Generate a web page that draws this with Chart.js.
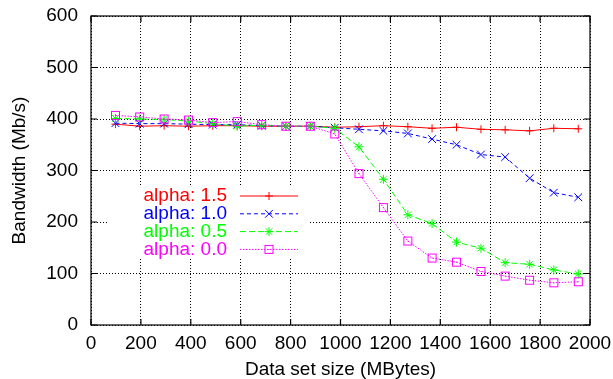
<!DOCTYPE html>
<html>
<head>
<meta charset="utf-8">
<script src="https://cdn.jsdelivr.net/npm/chart.js@4.4.1/dist/chart.umd.min.js"></script>
<style>
  html, body { margin: 0; padding: 0; background: #fff; }
  #wrap { width: 613px; height: 379px; }
</style>
</head>
<body>
<div id="wrap"><canvas id="bw" width="613" height="379"></canvas></div>
<script>
// Data set sizes (MBytes)
const sizes = [98, 195, 293, 391, 488, 586, 684, 781, 879, 977,
               1074, 1172, 1270, 1367, 1465, 1563, 1660, 1758, 1855, 1953];

// Bandwidth (Mb/s) per alpha
const alpha15 = [390, 386, 387, 386, 387, 387, 386, 386, 386, 384,
                 385, 387, 385, 382, 384, 380, 379, 377, 382, 381];
const alpha10 = [392, 391, 391, 390, 389, 389, 387, 386, 386, 383,
                 380, 377, 372, 361, 350, 331, 326, 285, 257, 248];
const alpha05 = [401, 400, 399, 396, 391, 386, 388, 386, 386, 382,
                 346, 283, 214, 197, 161, 149, 121, 118, 107, 99];
const alpha00 = [407, 404, 400, 398, 393, 395, 389, 386, 386, 371,
                 294, 228, 163, 130, 122, 104, 95, 87, 82, 84];

const xTicks = [0, 200, 400, 600, 800, 1000, 1200, 1400, 1600, 1800, 2000];
const yTicks = [0, 100, 200, 300, 400, 500, 600];

const FONT = "'Liberation Sans', Arial, sans-serif";
Chart.defaults.font.family = FONT;
Chart.defaults.font.size = 19;
Chart.defaults.color = '#000';

// gnuplot style box with a dot in the middle
function boxDot(color) {
    const c = document.createElement('canvas');
    c.width = 11; c.height = 11;
    const g = c.getContext('2d');
    g.strokeStyle = color;
    g.lineWidth = 1;
    g.strokeRect(1.5, 1.5, 8, 8);
    g.fillStyle = color;
    g.fillRect(5, 5, 1, 1);
    return c;
}

function pts(values) {
    return sizes.map((x, i) => ({ x: x, y: values[i] }));
}

function series(label, values, color, dash, style, radius, order) {
    return {
        label: label,
        data: pts(values),
        borderColor: color,
        backgroundColor: color,
        borderWidth: 1,
        borderDash: dash,
        pointStyle: style,
        pointRadius: radius,
        pointBorderWidth: 1,
        pointBorderColor: color,
        pointBackgroundColor: 'rgba(0,0,0,0)',
        fill: false,
        tension: 0,
        order: order
    };
}

const datasets = [
    series('alpha: 1.5', alpha15, '#ff0000', [], 'cross', 4, 4),
    series('alpha: 1.0', alpha10, '#0000ff', [4, 3], 'crossRot', 5.5, 3),
    series('alpha: 0.5', alpha05, '#00ff00', [6, 3], 'star', 4.5, 2),
    series('alpha: 0.0', alpha00, '#ff00ff', [1.5, 1.5], boxDot('#ff00ff'), 5, 1)
];

// key box placement (inside the plot, gnuplot style)
const key = { textRight: 227, firstRow: 196, rowGap: 17.8, lineFrom: 240, lineTo: 298 };

function drawMark(ctx, style, x, y, r) {
    ctx.beginPath();
    if (style === 'cross' || style === 'star') {
        ctx.moveTo(x - r, y); ctx.lineTo(x + r, y);
        ctx.moveTo(x, y - r); ctx.lineTo(x, y + r);
    }
    if (style === 'crossRot' || style === 'star') {
        const d = r * Math.SQRT1_2;
        ctx.moveTo(x - d, y - d); ctx.lineTo(x + d, y + d);
        ctx.moveTo(x - d, y + d); ctx.lineTo(x + d, y - d);
    }
    ctx.stroke();
    if (style instanceof HTMLCanvasElement) {
        ctx.drawImage(style, x - style.width / 2, y - style.height / 2);
    }
}

const gnuplotFrame = {
    id: 'gnuplotFrame',
    beforeDatasetsDraw(chart) {
        // blank the grid behind the key
        const ctx = chart.ctx;
        const n = chart.data.datasets.length;
        ctx.save();
        ctx.fillStyle = '#fff';
        ctx.fillRect(107, key.firstRow - 9, key.lineTo + 10 - 107, key.rowGap * (n - 1) + 18);
        ctx.restore();
    },
    afterDraw(chart) {
        const ctx = chart.ctx;
        const a = chart.chartArea;
        const xs = chart.scales.x, ys = chart.scales.y;
        const tl = 6;
        ctx.save();
        ctx.strokeStyle = '#000';
        ctx.lineWidth = 1.2;
        ctx.setLineDash([]);
        ctx.beginPath();
        xTicks.forEach(v => {
            const px = xs.getPixelForValue(v);
            ctx.moveTo(px, a.bottom); ctx.lineTo(px, a.bottom - tl);
            ctx.moveTo(px, a.top); ctx.lineTo(px, a.top + tl);
        });
        yTicks.forEach(v => {
            const py = ys.getPixelForValue(v);
            ctx.moveTo(a.left, py); ctx.lineTo(a.left + tl, py);
            ctx.moveTo(a.right, py); ctx.lineTo(a.right - tl, py);
        });
        ctx.stroke();
        ctx.strokeRect(a.left, a.top, a.right - a.left, a.bottom - a.top);

        // key
        ctx.font = '19px ' + FONT;
        ctx.textAlign = 'right';
        ctx.textBaseline = 'middle';
        chart.data.datasets.forEach((ds, i) => {
            const y = key.firstRow + i * key.rowGap;
            ctx.fillStyle = ds.borderColor;
            ctx.fillText(ds.label, key.textRight, y);
            ctx.strokeStyle = ds.borderColor;
            ctx.lineWidth = 1;
            ctx.setLineDash(ds.borderDash);
            ctx.beginPath();
            ctx.moveTo(key.lineFrom, y);
            ctx.lineTo(key.lineTo, y);
            ctx.stroke();
            ctx.setLineDash([]);
            drawMark(ctx, ds.pointStyle, (key.lineFrom + key.lineTo) / 2, y, ds.pointRadius);
        });
        ctx.restore();
    }
};

new Chart(document.getElementById('bw'), {
    type: 'line',
    data: { datasets: datasets },
    options: {
        responsive: false,
        animation: false,
        events: [],
        layout: { padding: { top: 16, right: 23, left: 0, bottom: 0 } },
        plugins: {
            legend: { display: false },
            tooltip: { enabled: false }
        },
        scales: {
            x: {
                type: 'linear',
                min: 0,
                max: 2000,
                afterBuildTicks: s => { s.ticks = xTicks.map(v => ({ value: v })); },
                afterFit: s => { s.height = 54; s.paddingLeft = 0; s.paddingRight = 0; },
                ticks: {
                    autoSkip: false,
                    maxRotation: 0,
                    padding: 7,
                    callback: v => String(v)
                },
                grid: { color: '#000', lineWidth: 1, drawTicks: false },
                border: { display: false, dash: [1, 2] },
                title: {
                    display: true,
                    text: 'Data set size (MBytes)',
                    font: { size: 19, lineHeight: 1 },
                    padding: { top: 0, bottom: 0 }
                }
            },
            y: {
                type: 'linear',
                min: 0,
                max: 600,
                afterBuildTicks: s => { s.ticks = yTicks.map(v => ({ value: v })); },
                afterFit: s => { s.width = 91; s.paddingTop = 0; s.paddingBottom = 0; },
                ticks: {
                    padding: 13,
                    callback: v => String(v)
                },
                grid: { color: '#000', lineWidth: 1, drawTicks: false },
                border: { display: false, dash: [1, 2] },
                title: {
                    display: true,
                    text: 'Bandwidth (Mb/s)',
                    font: { size: 19, lineHeight: 1 },
                    padding: { top: 10, bottom: 0 }
                }
            }
        }
    },
    plugins: [gnuplotFrame]
});
</script>
</body>
</html>
